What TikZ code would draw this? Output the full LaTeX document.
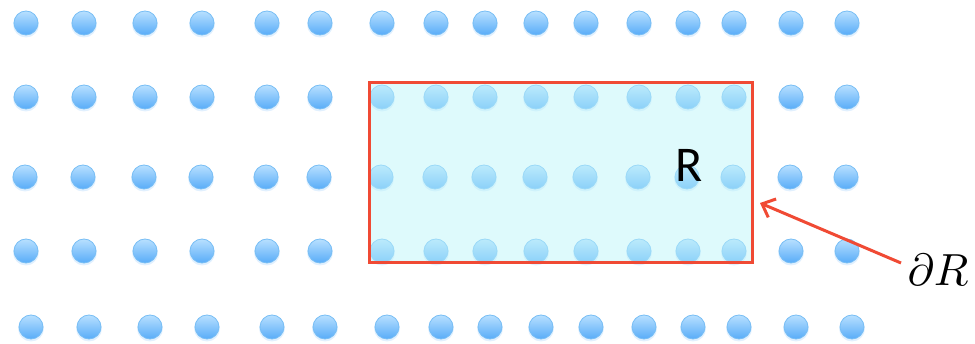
\documentclass[tikz,border=0pt]{standalone}
\usepackage{fontspec}
\newfontfamily\labelfont{Carlito}
\usetikzlibrary{arrows.meta}
\definecolor{dottop}{RGB}{184,224,255}
\definecolor{dotbot}{RGB}{88,172,248}
\definecolor{dotrim}{RGB}{120,190,245}
\definecolor{regfill}{RGB}{190,245,250}
\definecolor{bred}{RGB}{240,74,52}
\tikzset{
  dot/.style={circle, inner sep=0pt, minimum size=24pt, top color=dottop, bottom color=dotbot, draw=dotrim, line width=0.8pt},
  dotshadow/.style={circle, inner sep=0pt, minimum size=26pt, fill=dotbot, fill opacity=0.18, draw=none},
  region/.style={rectangle, inner sep=0pt, minimum width=383pt, minimum height=180pt, draw=bred, line width=3pt, fill=regfill, fill opacity=0.5, draw opacity=1},
  reglabel/.style={font=\labelfont\fontsize{50}{56}\selectfont, inner sep=0pt},
  bdlabel/.style={inner sep=0pt, scale=4.5},
  arr/.style={draw=bred, line width=3pt, -{Straight Barb[length=11pt,width=20pt,line width=3pt]}}
}
\begin{document}
\begin{tikzpicture}[x=1pt,y={(0pt,-1pt)}]
\useasboundingbox (0,0) rectangle (975,344);
\foreach \yy/\dx [count=\r] in {23/0, 97/0, 177/-1, 251/0, 327/5}{
  \foreach \xx [count=\c] in {26,84,145,202,267,320,382,436,485,536,586,639,688,734,791,847}{
    \node[dotshadow] at (\xx+\dx,\yy+1.5) {};
    \node[dot] (d\r-\c) at (\xx+\dx,\yy) {};
  }
}
\node[region] (reg) at (560.5,173) {};
\node[reglabel] (R) at (689,165) {R};
\node[bdlabel] (dR) at (938,270) {$\partial R$};
\coordinate (tail) at (901,263);
\coordinate (tip) at (760,203);
\draw[arr] (tail) -- (tip);
\end{tikzpicture}
\end{document}
